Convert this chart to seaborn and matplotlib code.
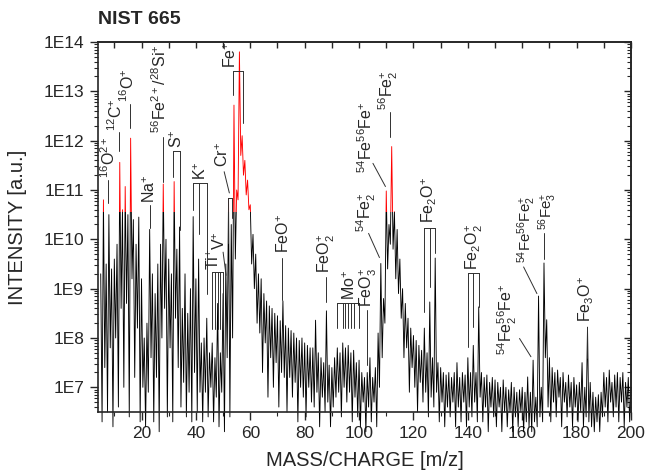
import numpy as np
import matplotlib
matplotlib.use("Agg")
import matplotlib.pyplot as plt
from matplotlib.patches import Rectangle
from matplotlib.ticker import FuncFormatter, FixedLocator, MultipleLocator, NullFormatter
import seaborn as sns

# spectrum, log10(intensity)
# tops at integer m/z 5..200
top_log = [
    9.3, 10.8, 9.5, 10.5, 9.4, 9.6, 9.9, 11.56, 10.6, 11.07,      # 5-14
    10.5, 12.05, 10.4, 9.9, 10.45, 9.2, 8.0, 8.3, 10.2, 9.3,      # 15-24
    8.9, 9.5, 9.9, 11.12, 10.0, 9.6, 9.3, 11.17, 9.8, 10.25,      # 25-34
    8.6, 9.3, 8.5, 9.0, 10.46, 9.2, 9.6, 7.9, 8.0, 8.4,           # 35-44
    7.7, 7.9, 7.6, 8.7, 7.7, 8.9, 9.5, 10.83, 10.3, 12.72,        # 45-54
    11.0, 13.8, 12.1, 11.6, 11.2, 10.7, 10.1, 9.7, 9.3, 9.2,      # 55-64
    8.9, 8.75, 8.65, 8.6, 8.5, 8.45, 8.35, 8.75, 8.25, 8.2,       # 65-74
    8.15, 8.1, 8.0, 7.95, 8.0, 7.9, 7.85, 7.8, 7.8, 8.36,         # 75-84
    7.7, 7.6, 7.5, 8.55, 7.45, 7.4, 7.6, 7.8, 7.7, 7.9,           # 85-94
    7.8, 7.85, 7.7, 7.75, 7.5, 7.55, 7.3, 7.2, 7.3, 7.6,          # 95-104
    7.2, 7.4, 8.1, 9.51, 8.8, 10.98, 10.3, 11.88, 10.56, 10.2,    # 105-114
    9.6, 9.0, 8.7, 8.4, 8.2, 8.05, 7.95, 7.85, 7.75, 8.2,         # 115-124
    7.7, 8.73, 7.6, 9.62, 7.5, 7.4, 7.3, 7.25, 7.3, 7.2,          # 125-134
    7.3, 7.5, 7.2, 7.3, 7.25, 7.6, 7.3, 7.85, 7.3, 8.63,          # 135-144
    7.3, 7.2, 7.25, 7.1, 7.2, 7.15, 7.1, 7.0, 7.15, 7.0,          # 145-154
    6.95, 7.1, 7.0, 6.9, 6.95, 7.0, 6.9, 7.21, 6.9, 7.55,         # 155-164
    6.8, 8.85, 7.0, 9.52, 8.37, 7.6, 7.4, 7.3, 7.35, 7.2,         # 165-174
    7.3, 7.1, 7.25, 7.1, 7.2, 7.05, 7.1, 7.5, 7.0, 8.22,          # 175-184
    7.1, 6.9, 6.8, 6.85, 6.9, 7.3, 7.2, 7.35, 7.1, 7.25,          # 185-194
    7.3, 7.2, 7.3, 7.1, 7.2, 7.0,                                 # 195-200
]
# valleys at half-integer m/z 5.5..199.5
valley_log = [
    6.3, 7.4, 6.5, 7.8, 6.2, 8.0, 6.6, 8.6, 7.0, 8.7,
    6.4, 9.2, 7.2, 8.2, 6.3, 7.0, 6.2, 6.9, 7.6, 6.3,
    7.2, 6.1, 8.0, 8.6, 6.4, 7.8, 6.3, 8.4, 7.4, 6.6,
    7.1, 6.4, 6.9, 6.3, 7.3, 6.5, 6.9, 6.3, 6.9, 6.4,
    7.0, 6.3, 6.8, 6.2, 6.9, 6.1, 7.6, 6.4, 8.0, 9.6,
    10.8, 11.7, 11.3, 10.9, 10.6, 9.5, 9.0, 8.3, 8.1, 7.3,
    7.9, 6.8, 7.6, 7.0, 7.5, 6.6, 7.3, 7.2, 6.5, 7.2,
    6.8, 7.1, 6.3, 7.0, 6.8, 6.4, 7.0, 6.7, 6.6, 6.9,
    6.2, 6.8, 6.5, 6.7, 6.2, 6.6, 6.8, 6.9, 6.4, 7.0,
    6.7, 6.9, 6.3, 6.8, 6.4, 6.2, 6.7, 6.1, 6.6, 6.3,
    6.7, 6.2, 7.0, 7.6, 8.3, 9.4, 9.9, 9.8, 9.2, 8.9,
    8.4, 7.6, 7.8, 6.9, 7.4, 7.0, 6.5, 7.1, 6.7, 6.9,
    6.4, 6.8, 6.6, 6.9, 6.3, 6.7, 6.2, 6.6, 6.4, 6.7,
    6.2, 6.6, 6.3, 6.7, 6.2, 6.6, 6.4, 6.7, 6.3, 6.8,
    6.3, 6.6, 6.1, 6.6, 6.4, 6.2, 6.6, 6.1, 6.5, 6.2,
    6.5, 6.1, 6.4, 6.2, 6.5, 6.1, 6.3, 6.2, 6.1, 6.3,
    6.2, 6.4, 6.3, 7.6, 6.6, 6.3, 6.7, 6.4, 6.8, 6.2,
    6.7, 6.4, 6.6, 6.2, 6.6, 6.3, 6.5, 6.2, 6.4, 6.3,
    6.2, 6.1, 6.3, 6.1, 6.4, 6.6, 6.3, 6.7, 6.4, 6.6,
    6.3, 6.7, 6.2, 6.6, 6.3,
]
first_mz = 5
red_above = 10.55   # part of the trace drawn red (log10)
y_decades = [7, 8, 9, 10, 11, 12, 13, 14]

# peak labels: text, m/z of text centre, log10 of text lower end
label_text = [r'$^{16}$O$^{2+}$', r'$^{12}$C$^{+}$', r'$^{16}$O$^{+}$', r'Na$^{+}$',
              r'$^{56}$Fe$^{2+}$/$^{28}$Si$^{+}$', r'S$^{+}$', r'K$^{+}$', r'Cr$^{+}$',
              r'Fe$^{+}$', r'V$^{+}$', r'Ti$^{+}$', r'FeO$^{+}$', r'FeO$_2^{+}$', r'Mo$^{+}$',
              r'FeO$_3^{+}$', r'$^{54}$Fe$_2^{+}$', r'$^{54}$Fe$^{56}$Fe$^{+}$',
              r'$^{56}$Fe$_2^{+}$', r'Fe$_2$O$^{+}$', r'Fe$_2$O$_2^{+}$',
              r'$^{54}$Fe$_2^{56}$Fe$^{+}$', r'$^{54}$Fe$^{56}$Fe$_2^{+}$',
              r'$^{56}$Fe$_3^{+}$', r'Fe$_3$O$^{+}$']
label_mz = [7.8, 10.4, 14.9, 23.0, 26.6, 33.0, 41.7, 49.8, 52.95, 48.6, 46.5, 72.2, 88.1,
            96.4, 103.5, 102.6, 102.45, 110.9, 125.8, 142.4, 154.7, 161.8, 169.3, 183.6]
label_log = [11.24, 12.2, 12.78, 10.73, 12.15, 11.85, 11.2, 11.46, 13.47, 9.78, 9.38, 9.72,
             9.31, 8.77, 8.62, 10.15, 11.34, 12.62, 10.33, 9.38, 7.65, 9.52, 10.19, 8.32]
label_fs = [11.5] * 21 + [10.8, 10.8, 11.5]

# leader lines: (mz0, log0, mz1, log1)
leaders = [(7.5, 11.2, 7.5, 10.73), (11.85, 12.17, 11.85, 11.8), (15.8, 12.74, 15.8, 12.26),
           (22.95, 10.69, 22.95, 10.23), (27.8, 12.07, 27.8, 11.16),
           (50.4, 11.37, 52.3, 10.94), (50.0, 9.74, 51.1, 9.27), (71.6, 9.62, 71.6, 8.77),
           (87.9, 9.23, 87.9, 8.73), (103.1, 8.56, 103.1, 7.45), (103.5, 10.12, 107.5, 9.63),
           (105.1, 11.54, 109.7, 11.07), (111.5, 12.58, 111.5, 12.07),
           (159.0, 7.99, 163.2, 7.62), (160.5, 9.44, 165.4, 8.9),
           (168.0, 10.12, 168.0, 9.61), (183.9, 8.22, 183.9, 7.6)]

# isotope brackets: m/z of legs, log10 of bar, log10 of leg ends
bracket_mz = [[31.4, 34.2], [38.85, 41.2, 44.0], [51.96, 53.2], [53.57, 57.48],
              [46, 47, 48, 49, 50], [92, 94, 95, 96, 97, 98, 100],
              [124, 126, 128], [140, 142, 144]]
bracket_top = [11.79, 11.15, 10.84, 13.41, 9.34, 8.71, 10.23, 9.31]
bracket_end = [[11.27, 10.19], [10.6, 10.1, 8.9], [9.92, 10.43], [12.92, 12.36],
               [8.19] * 5, [8.2] * 7, [8.53, 9.04, 9.72], [7.82, 8.22, 8.63]]

sns.set_style("ticks")
plt.rcParams['font.family'] = ['Liberation Sans', 'DejaVu Sans']
plt.rcParams['mathtext.fontset'] = 'custom'
plt.rcParams['mathtext.rm'] = 'Liberation Sans'
plt.rcParams['mathtext.it'] = 'Liberation Sans:italic'
plt.rcParams['mathtext.bf'] = 'Liberation Sans:bold'
plt.rcParams['mathtext.default'] = 'regular'

mz, inten = [], []
for i, t in enumerate(top_log):
    mz.append(first_mz + i)
    inten.append(10 ** t)
    if i < len(valley_log):
        mz.append(first_mz + i + 0.5)
        inten.append(10 ** valley_log[i])

fig = plt.figure(figsize=(6.46, 4.76), dpi=100)
ax = fig.add_axes([0.1517, 0.1345, 0.8251, 0.7773])
ax.set_yscale('log')
ax.set_xlim(4, 200)
ax.set_ylim(10 ** 6.5, 1e14)

sns.lineplot(x=mz, y=inten, ax=ax, color='black', lw=0.65, estimator=None, sort=False)
low_line = ax.lines[-1]
sns.lineplot(x=mz, y=inten, ax=ax, color='#ff0000', lw=0.65, estimator=None, sort=False)
high_line = ax.lines[-1]
low_line.set_clip_path(Rectangle((0, 1), 300, 10 ** red_above - 1, transform=ax.transData))
high_line.set_clip_path(Rectangle((0, 10 ** red_above), 300, 1e16, transform=ax.transData))

ann = dict(color='#303030', lw=0.7)
for txt, x, y, fs in zip(label_text, label_mz, label_log, label_fs):
    ax.text(x, 10 ** y, txt, rotation=90, ha='center', va='bottom', fontsize=fs)
for x0, y0, x1, y1 in leaders:
    ax.plot([x0, x1], [10 ** y0, 10 ** y1], **ann)
for xs, yt, ye in zip(bracket_mz, bracket_top, bracket_end):
    ax.plot([xs[0], xs[-1]], [10 ** yt, 10 ** yt], **ann)
    for x, e in zip(xs, ye):
        ax.plot([x, x], [10 ** yt, 10 ** e], **ann)

major_y = [10.0 ** d for d in y_decades]
minor_y = [m * 10.0 ** d for d in range(6, 14) for m in range(2, 10)]
ax.xaxis.set_major_locator(MultipleLocator(20))
ax.xaxis.set_minor_locator(MultipleLocator(10))
ax.yaxis.set_major_locator(FixedLocator(major_y))
ax.yaxis.set_minor_locator(FixedLocator(minor_y))
ax.yaxis.set_minor_formatter(NullFormatter())
ax.yaxis.set_major_formatter(FuncFormatter(lambda v, p: "1E%d" % round(np.log10(v))))
ax.tick_params(which='major', direction='out', length=6, width=1, labelsize=12.5, pad=4)
ax.tick_params(which='minor', direction='out', length=3, width=0.8)
for sp in ax.spines.values():
    sp.set_linewidth(1.2)

top = ax.secondary_xaxis('top')
top.xaxis.set_major_locator(MultipleLocator(20))
top.xaxis.set_minor_locator(MultipleLocator(10))
top.tick_params(which='both', direction='in', length=4, width=1, labeltop=False)
right = ax.secondary_yaxis('right')
right.yaxis.set_major_locator(FixedLocator(major_y))
right.yaxis.set_minor_locator(FixedLocator(minor_y))
right.tick_params(which='major', direction='in', length=5, width=1, labelright=False)
right.tick_params(which='minor', direction='in', length=3, width=0.8, labelright=False)
for sec in (top, right):
    for sp in sec.spines.values():
        sp.set_linewidth(1.2)

ax.set_xlabel("MASS/CHARGE [m/z]", fontsize=14.5, labelpad=7)
ax.set_ylabel("INTENSITY [a.u.]", fontsize=14.5, labelpad=12)
ax.set_title("NIST 665", loc='left', fontsize=14, fontweight='bold', pad=13)

fig.savefig("out.png", dpi=100)
